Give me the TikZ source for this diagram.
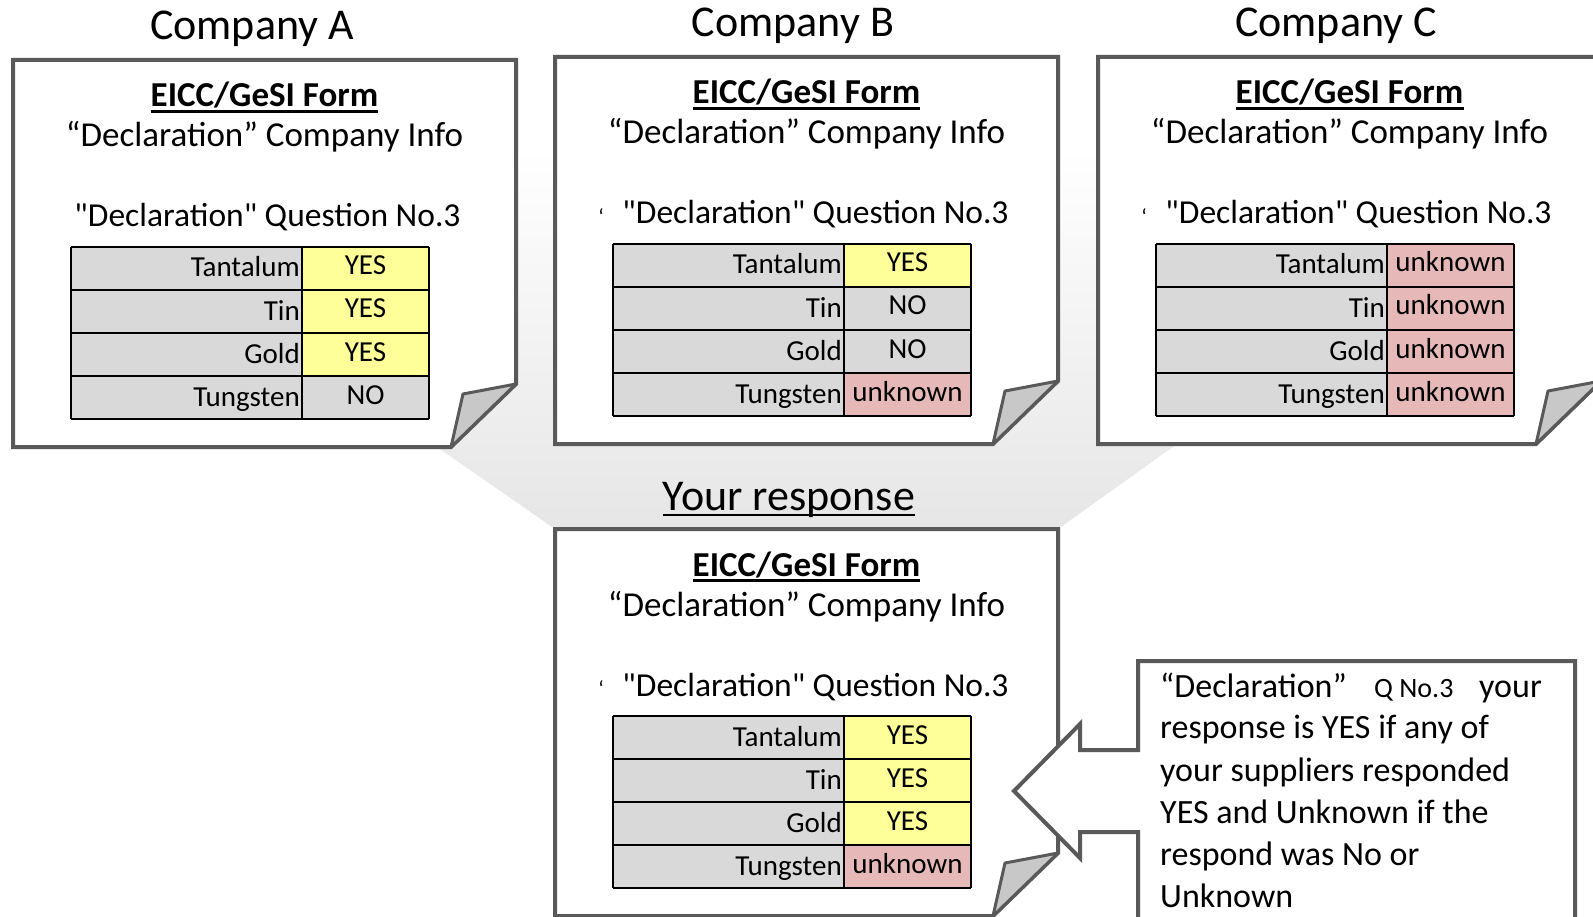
\documentclass[tikz,border=0pt]{standalone}
\usepackage{fontspec}
\setmainfont{Carlito}[Ligatures=TeXOff]
\definecolor{bord}{RGB}{89,89,89}
\definecolor{cellgray}{RGB}{217,217,217}
\definecolor{yel}{RGB}{255,255,153}
\definecolor{pnk}{RGB}{230,185,184}
\definecolor{flapfill}{RGB}{200,200,200}
\definecolor{funnelgray}{RGB}{230,230,230}
\newcommand\formframe[3]{% #1 prefix, #2 question offset, #3 mark
  \draw[formline] (0,0) -- (503,0) -- (503,324) -- (438,387) -- (0,387) -- cycle;
  \draw[flapline] (503,324) -- (450,334) -- (438,387) -- cycle;
  \node[formhead] (#1head) at (251.5,47) {EICC/GeSI Form};
  \draw[uline] ([yshift=-4.5pt]#1head.base west) -- ([yshift=-4.5pt]#1head.base east);
  \node[formtext] (#1info) at (251.5,87) {“Declaration” Company Info};
  \node[qtext] (#1q) at (251.5+#2,167) {"Declaration" Question No.3};
  \ifnum#3=1 \node[marktext] (#1mark) at (46,160) {‘};\fi
}
\newcommand\frow[5]{% #1 prefix, #2 row, #3 label, #4 value, #5 colour
  \pgfmathsetmacro\rt{187+43*#2}
  \fill[cellgray] (58,\rt) rectangle (289,\rt+43);
  \fill[#5] (289,\rt) rectangle (416,\rt+43);
  \node[celltext,anchor=base east] (#1l#2) at (287,\rt+30) {#3};
  \node[celltext,anchor=base] (#1v#2) at (352.5,\rt+28) {#4};
}
\newcommand\tablegrid{%
  \foreach \yy in {187,230,273,316,359} \draw[tline] (58,\yy) -- (416,\yy);
  \foreach \xx in {58,289,416} \draw[tline] (\xx,187) -- (\xx,359);
}
\begin{document}
\begin{tikzpicture}[x=1pt,y=-1pt,
  formline/.style={draw=bord,line width=4pt,fill=white,line join=miter},
  flapline/.style={draw=bord,line width=3pt,fill=flapfill,line join=round},
  tline/.style={draw=black,line width=2pt},
  uline/.style={draw=black,line width=2.2pt},
  formhead/.style={anchor=base,inner sep=0pt,font=\bfseries\fontsize{35}{42}\selectfont},
  formtext/.style={anchor=base,inner sep=0pt,font=\fontsize{35}{42}\selectfont},
  qtext/.style={anchor=base,inner sep=0pt,font=\fontsize{33.5}{40}\selectfont},
  marktext/.style={anchor=center,inner sep=0pt,font=\fontsize{22}{26}\selectfont},
  celltext/.style={inner sep=0pt,font=\fontsize{29}{34}\selectfont},
  titletext/.style={anchor=base,inner sep=0pt,font=\fontsize{44}{52}\selectfont},
  calltext/.style={anchor=base west,inner sep=0pt,font=\fontsize{34}{42}\selectfont},
  smalltext/.style={anchor=base west,inner sep=0pt,font=\fontsize{28}{34}\selectfont}]
\useasboundingbox (0,0) rectangle (1593,917);
\clip (0,0) rectangle (1593,917);
% funnel background
\shade[top color=white,bottom color=funnelgray] (9,150) -- (1589,150) -- (1058,529) -- (555,529) -- cycle;
% titles
\node[titletext] (tA) at (252,40) {Company A};
\node[titletext] (tB) at (793,37) {Company B};
\node[titletext] (tC) at (1336,37) {Company C};
% Company A
\begin{scope}[shift={(13,60)}]
  \formframe{A}{3}{0}
  \frow{A}{0}{Tantalum}{YES}{yel}
  \frow{A}{1}{Tin}{YES}{yel}
  \frow{A}{2}{Gold}{YES}{yel}
  \frow{A}{3}{Tungsten}{NO}{cellgray}
  \tablegrid
\end{scope}
% Company B
\begin{scope}[shift={(555,57)}]
  \formframe{B}{9}{1}
  \frow{B}{0}{Tantalum}{YES}{yel}
  \frow{B}{1}{Tin}{NO}{cellgray}
  \frow{B}{2}{Gold}{NO}{cellgray}
  \frow{B}{3}{Tungsten}{unknown}{pnk}
  \tablegrid
\end{scope}
% Company C
\begin{scope}[shift={(1098,57)}]
  \formframe{C}{9}{1}
  \frow{C}{0}{Tantalum}{unknown}{pnk}
  \frow{C}{1}{Tin}{unknown}{pnk}
  \frow{C}{2}{Gold}{unknown}{pnk}
  \frow{C}{3}{Tungsten}{unknown}{pnk}
  \tablegrid
\end{scope}
% Your response
\node[titletext] (yr) at (789,510) {Your response};
\draw[uline] ([yshift=-5pt]yr.base west) -- ([yshift=-5pt]yr.base east);
\begin{scope}[shift={(555,529)}]
  \formframe{D}{9}{1}
  \frow{D}{0}{Tantalum}{YES}{yel}
  \frow{D}{1}{Tin}{YES}{yel}
  \frow{D}{2}{Gold}{YES}{yel}
  \frow{D}{3}{Tungsten}{unknown}{pnk}
  \tablegrid
\end{scope}
% callout
\draw[formline] (1138,940) -- (1138,832) -- (1080,832) -- (1080,858) -- (1014,791) -- (1080,724) -- (1080,750) -- (1138,750) -- (1138,661) -- (1575,661) -- (1575,940) -- cycle;
\node[calltext] (k1) at (1160,697) {“Declaration”};
\node[smalltext] (k1q) at (1374,697) {Q No.3};
\node[calltext] (k1y) at (1479,697) {your};
\node[calltext] (k2) at (1160,738) {response is YES if any of};
\node[calltext] (k3) at (1160,781) {your suppliers responded};
\node[calltext] (k4) at (1160,823) {YES and Unknown if the};
\node[calltext] (k5) at (1160,865) {respond was No or};
\node[calltext] (k6) at (1160,907) {Unknown};
\end{tikzpicture}
\end{document}
